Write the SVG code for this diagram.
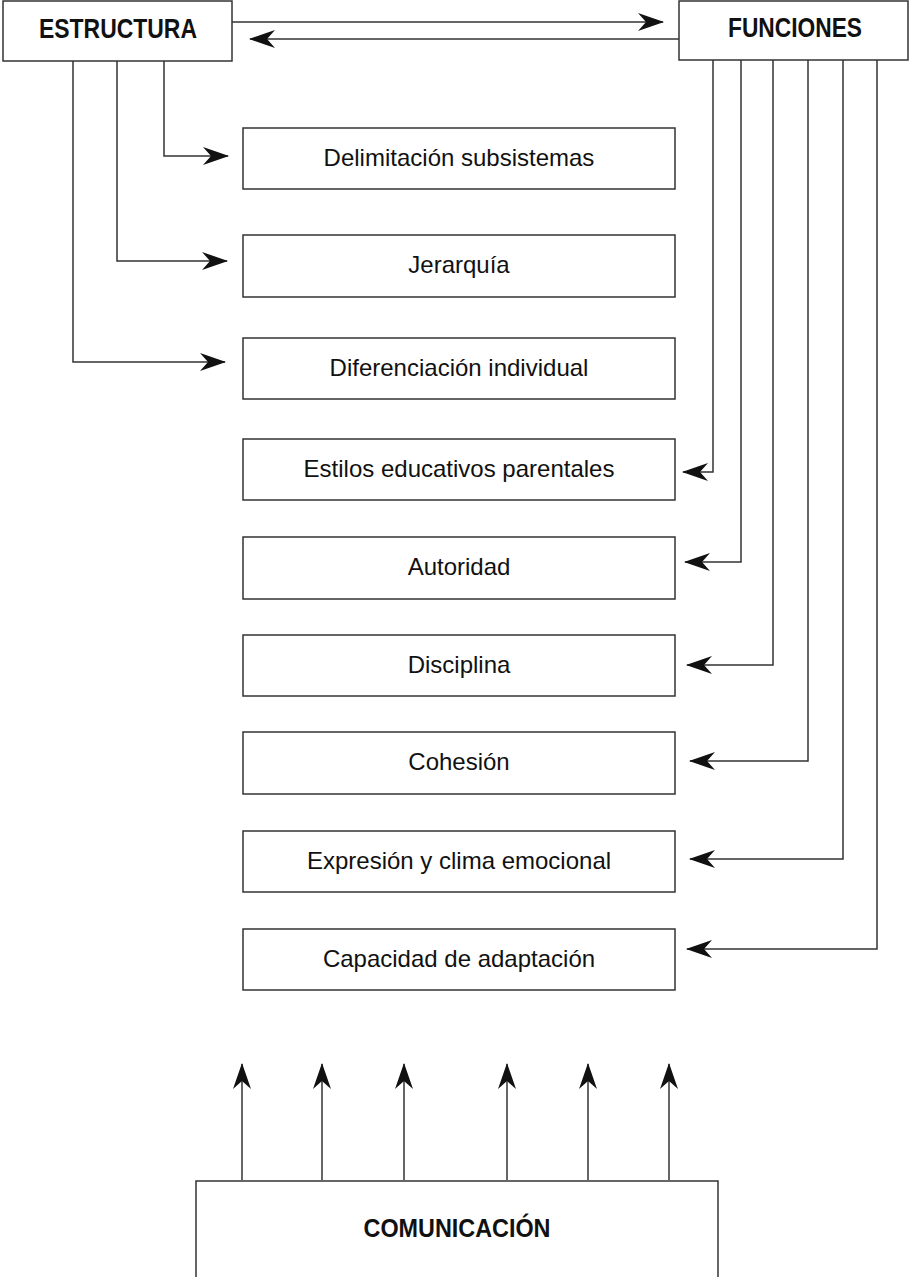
<svg xmlns="http://www.w3.org/2000/svg" width="911" height="1277" viewBox="0 0 911 1277">
<style>
.box{fill:#fff;stroke:#333;stroke-width:1.5}
.lbl{font-family:"Liberation Sans",Arial,sans-serif;font-size:24px;fill:#111;text-anchor:middle}
.hdr{font-family:"Liberation Sans",Arial,sans-serif;font-size:28px;font-weight:bold;fill:#111;text-anchor:middle}
.con{fill:none;stroke:#333;stroke-width:1.5}
</style>
<defs>
<marker id="ah" viewBox="-25 -9 26 18" markerWidth="26" markerHeight="18" markerUnits="userSpaceOnUse" refX="0" refY="0" orient="auto">
<path d="M1,0 L-25,-9 L-17,0 L-25,9 Z" fill="#111"/>
</marker>
</defs>
<rect width="911" height="1277" fill="#fff"/>
<g id="connectors">
<line class="con" x1="232" y1="22" x2="663" y2="22" marker-end="url(#ah)"/>
<line class="con" x1="679" y1="39" x2="250" y2="39" marker-end="url(#ah)"/>
<polyline class="con" points="164,61 164,156 228,156" marker-end="url(#ah)"/>
<polyline class="con" points="117,61 117,261 227,261" marker-end="url(#ah)"/>
<polyline class="con" points="73,61 73,362 225,362" marker-end="url(#ah)"/>
<polyline class="con" points="713,60 713,472 683,472" marker-end="url(#ah)"/>
<polyline class="con" points="741,60 741,562 685,562" marker-end="url(#ah)"/>
<polyline class="con" points="773,60 773,665 687,665" marker-end="url(#ah)"/>
<polyline class="con" points="808,60 808,761 690,761" marker-end="url(#ah)"/>
<polyline class="con" points="843,60 843,859 690,859" marker-end="url(#ah)"/>
<polyline class="con" points="877,60 877,949 687,949" marker-end="url(#ah)"/>
<line class="con" x1="242" y1="1180" x2="242" y2="1064" marker-end="url(#ah)"/>
<line class="con" x1="322" y1="1180" x2="322" y2="1064" marker-end="url(#ah)"/>
<line class="con" x1="404" y1="1180" x2="404" y2="1064" marker-end="url(#ah)"/>
<line class="con" x1="507" y1="1180" x2="507" y2="1064" marker-end="url(#ah)"/>
<line class="con" x1="588" y1="1180" x2="588" y2="1064" marker-end="url(#ah)"/>
<line class="con" x1="669" y1="1180" x2="669" y2="1064" marker-end="url(#ah)"/>
</g>
<g id="estructura"><rect class="box" x="3" y="1" width="229" height="60"/><text class="hdr" x="118" y="38" textLength="158" lengthAdjust="spacingAndGlyphs">ESTRUCTURA</text></g>
<g id="funciones"><rect class="box" x="679" y="1" width="229" height="59"/><text class="hdr" x="795" y="37" textLength="134" lengthAdjust="spacingAndGlyphs">FUNCIONES</text></g>
<g id="delimitacion"><rect class="box" x="243" y="128" width="432" height="61"/><text class="lbl" x="459" y="166">Delimitación subsistemas</text></g>
<g id="jerarquia"><rect class="box" x="243" y="235" width="432" height="62"/><text class="lbl" x="459" y="273">Jerarquía</text></g>
<g id="diferenciacion"><rect class="box" x="243" y="338" width="432" height="61"/><text class="lbl" x="459" y="376">Diferenciación individual</text></g>
<g id="estilos"><rect class="box" x="243" y="439" width="432" height="61"/><text class="lbl" x="459" y="477">Estilos educativos parentales</text></g>
<g id="autoridad"><rect class="box" x="243" y="537" width="432" height="62"/><text class="lbl" x="459" y="575">Autoridad</text></g>
<g id="disciplina"><rect class="box" x="243" y="635" width="432" height="61"/><text class="lbl" x="459" y="673">Disciplina</text></g>
<g id="cohesion"><rect class="box" x="243" y="732" width="432" height="62"/><text class="lbl" x="459" y="770">Cohesión</text></g>
<g id="expresion"><rect class="box" x="243" y="831" width="432" height="61"/><text class="lbl" x="459" y="869">Expresión y clima emocional</text></g>
<g id="capacidad"><rect class="box" x="243" y="929" width="432" height="61"/><text class="lbl" x="459" y="967">Capacidad de adaptación</text></g>
<g id="comunicacion"><rect class="box" x="196" y="1181" width="522" height="110"/><text class="hdr" x="457" y="1237" textLength="187" lengthAdjust="spacingAndGlyphs" style="font-size:26px">COMUNICACIÓN</text></g>
</svg>
